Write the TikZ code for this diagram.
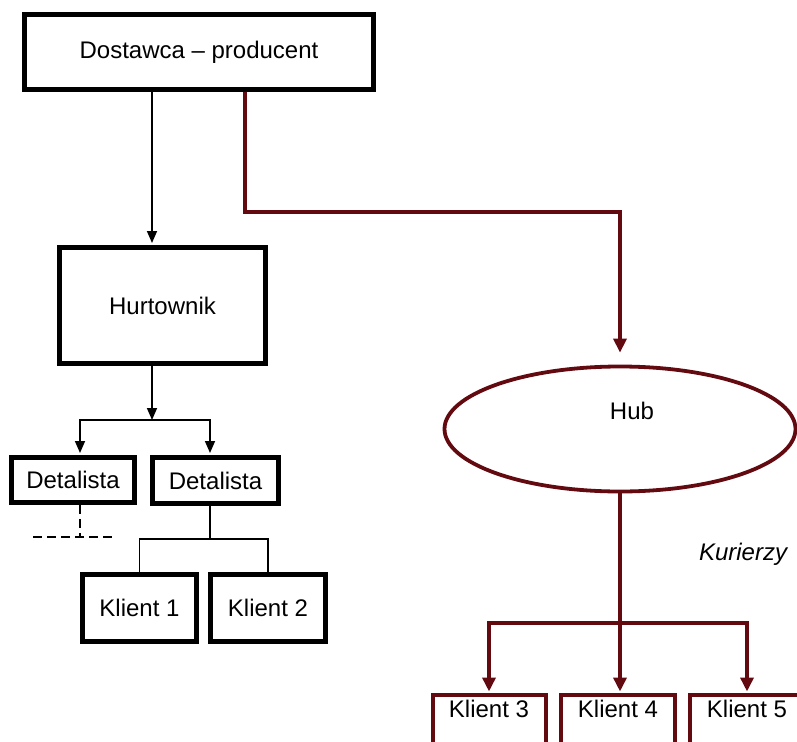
\documentclass[tikz,border=0pt]{standalone}
\usepackage{fontspec}
\setmainfont{Liberation Sans}
\usetikzlibrary{arrows.meta,shapes.geometric}
\definecolor{maroon}{RGB}{98,10,16}

\tikzset{
  txt/.style={font=\fontsize{24}{28}\selectfont},
  blackbox/.style={draw=black, line width=5pt, fill=white, txt, inner sep=0pt},
  redbox/.style={draw=maroon, line width=4pt, fill=white, txt, inner xsep=0pt,
    inner ysep=4.5pt, text height=18pt, text depth=40pt, anchor=north},
  conn/.style={line width=1.6pt},
  connarrow/.style={conn, -{Triangle[width=10pt,length=12pt]}},
  redline/.style={draw=maroon, line width=4.2pt},
  redarrow/.style={redline, -{Triangle[width=13pt,length=14pt]}},
  dashline/.style={conn, dash pattern=on 9pt off 5pt},
}

\begin{document}
\begin{tikzpicture}[x=1pt,y=-1pt]
\useasboundingbox (0,0) rectangle (797,741);
\clip (0,0) rectangle (797,741);

% boxes of the classic chain
\node[blackbox, minimum width=349pt, minimum height=75pt] (dp) at (199,52) {Dostawca – producent};
\node[blackbox, minimum width=206pt, minimum height=116pt] (hurt) at (162.5,305.5) {Hurtownik};
\node[blackbox, minimum width=123pt, minimum height=45pt] (det1) at (73,480) {Detalista};
\node[blackbox, minimum width=126pt, minimum height=46pt] (det2) at (215.5,480.5) {Detalista};
\node[blackbox, minimum width=114pt, minimum height=67pt] (k1) at (139.5,608) {Klient 1};
\node[blackbox, minimum width=115pt, minimum height=67pt] (k2) at (268,608) {Klient 2};

% hub and courier delivery
\node[ellipse, draw=maroon, line width=3.8pt, minimum width=351pt, minimum height=125pt, inner sep=0pt] (hub) at (620,429) {};
\node[txt] (hubl) at (632,411) {Hub};
\node[font=\fontsize{24}{28}\selectfont\itshape] (kur) at (743,554) {Kurierzy};
\node[redbox, minimum width=113pt] (k3) at (489,693) {Klient 3};
\node[redbox, minimum width=114pt] (k4) at (618,693) {Klient 4};
\node[redbox, minimum width=114pt] (k5) at (747,693) {Klient 5};

% black connectors
\coordinate (cA) at (152,0);
\coordinate (cD1) at (80,0);
\coordinate (cD2) at (210,0);
\coordinate (fork1) at (152,420);
\coordinate (fork2) at (210,539);
\draw[connarrow, shorten >=2pt] (dp.south -| cA) -- (hurt.north -| cA);
\draw[connarrow] (hurt.south -| cA) -- (fork1);
\draw[connarrow, shorten >=2pt] (fork1) -| (det1.north -| cD1);
\draw[connarrow, shorten >=2pt] (fork1) -| (det2.north -| cD2);
\draw[conn] (det2.south -| cD2) -- (fork2);
\draw[conn] (k1.north) |- (fork2) -| (k2.north);

% dashed continuation under the first retailer
\coordinate (dsh) at (80,537);
\coordinate (dL) at (33,537);
\coordinate (dR) at (113,537);
\draw[dashline] (det1.south -| cD1) -- (dsh);
\draw[dashline] (dL) -- (dR);

% red route through the hub
\coordinate (rA) at (245,212);
\coordinate (fork3) at (619,623);
\draw[redarrow, shorten >=12pt] (dp.south -| rA) -- (rA) -| (hub.south |- hub.north);
\draw[redarrow, shorten >=1.5pt] (hub.south) -- (hub.south |- k4.north);
\draw[redarrow, shorten >=1.5pt] (hub.south |- fork3) -| (k3.north);
\draw[redarrow, shorten >=1.5pt] (hub.south |- fork3) -| (k5.north);
\end{tikzpicture}
\end{document}
